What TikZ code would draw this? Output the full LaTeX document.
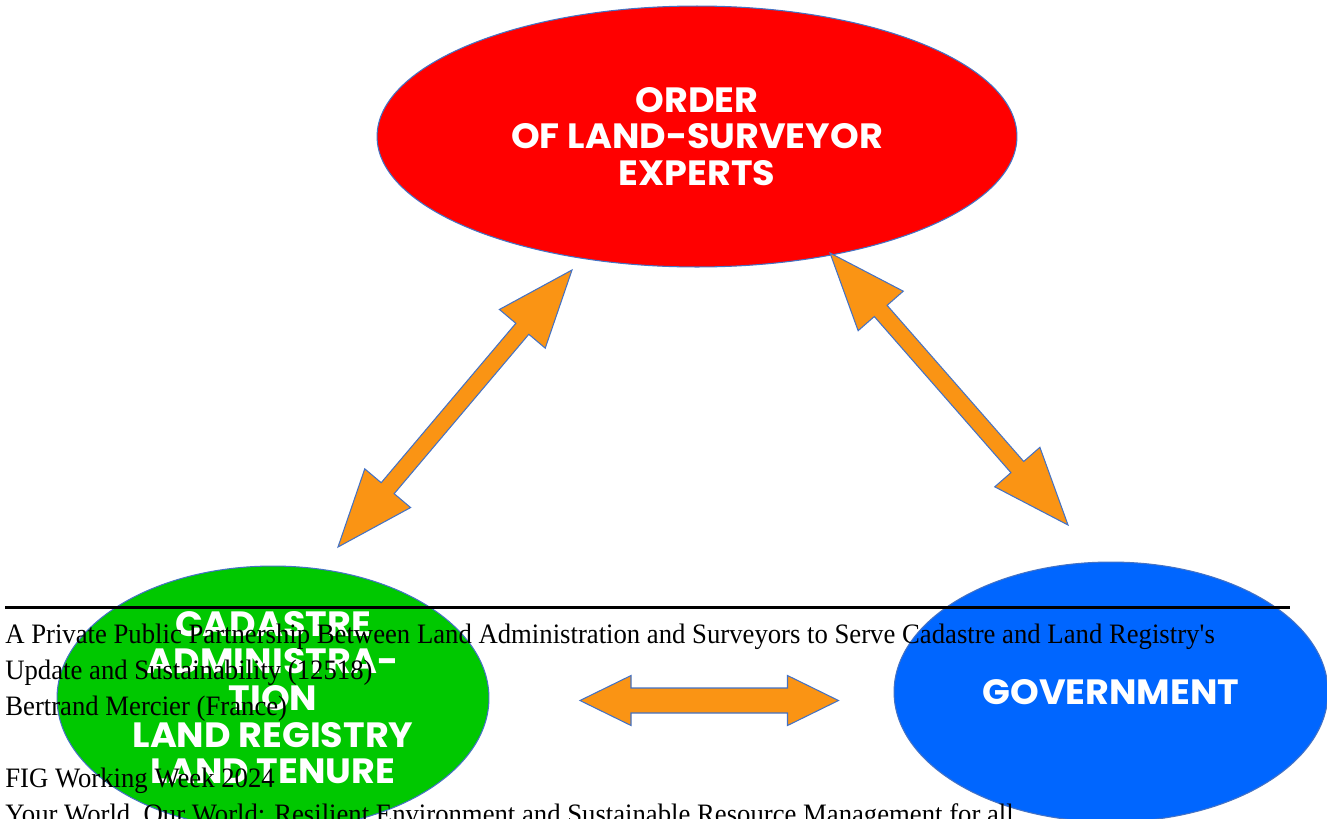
\documentclass[tikz,border=0pt]{standalone}
\usepackage{fontspec}
\setmainfont{Liberation Serif}[FakeStretch=0.95]
\newfontfamily\boxfont{Poppins}[FakeStretch=1.04]
\usetikzlibrary{shapes.geometric,calc}

\definecolor{ordred}{RGB}{255,0,0}
\definecolor{cadgreen}{RGB}{0,200,0}
\definecolor{govblue}{RGB}{0,102,255}
\definecolor{arrorange}{RGB}{250,148,20}
\definecolor{edgeblue}{RGB}{68,114,196}

\tikzset{
  body/.style={ellipse, draw=edgeblue, line width=0.6pt, inner sep=0pt,
    text=white, align=center, font=\boxfont\bfseries\fontsize{20}{20.9}\selectfont},
  flowarrow/.style={fill=arrorange, draw=edgeblue, line width=0.6pt},
  footer/.style={anchor=base west, inner sep=0pt, font=\fontsize{16}{20}\selectfont},
}

% block arrow with two heads: tips #1 and #2, half shaft #3, half head #4, head length #5
\newcommand{\linkarrow}[5]{%
  \filldraw[flowarrow] (#1)
    -- ($(#1)!#5!(#2)!#4!90:(#2)$)
    -- ($(#1)!#5!(#2)!#3!90:(#2)$)
    -- ($(#2)!#5!(#1)!#3!-90:(#1)$)
    -- ($(#2)!#5!(#1)!#4!-90:(#1)$)
    -- (#2)
    -- ($(#2)!#5!(#1)!#4!90:(#1)$)
    -- ($(#2)!#5!(#1)!#3!90:(#1)$)
    -- ($(#1)!#5!(#2)!#3!-90:(#2)$)
    -- ($(#1)!#5!(#2)!#4!-90:(#2)$)
    -- cycle;}

\begin{document}
\begin{tikzpicture}[x=0.02cm, y=-0.02cm]
    \useasboundingbox (0,0) rectangle (1327,818);

    % The three bodies
    \node[body, fill=ordred, minimum width=12.8cm, minimum height=5.22cm] (order) at (697,136.5)
        {ORDER\\OF LAND-SURVEYOR\\EXPERTS};
    \node[body, fill=cadgreen, minimum width=8.64cm, minimum height=5.28cm] (cadastre) at (273,698)
        {CADASTRE\\ADMINISTRA-\\TION\\LAND REGISTRY\\LAND TENURE};
    \node[body, fill=govblue, minimum width=8.68cm, minimum height=5.2cm] (gov) at (1111,692)
        {GOVERNMENT};

    % Arrow tips
    \coordinate (ord-left) at (572,270);
    \coordinate (cad-top) at (338,547);
    \coordinate (ord-right) at (830,253);
    \coordinate (gov-top) at (1068,525);
    \coordinate (cad-right) at (580,700.5);
    \coordinate (gov-left) at (838.5,700.5);

    % Two-way arrows
    \linkarrow{cad-top}{ord-left}{0.17cm}{0.6cm}{1.54cm}
    \linkarrow{ord-right}{gov-top}{0.17cm}{0.6cm}{1.54cm}
    \linkarrow{cad-right}{gov-left}{0.25cm}{0.5cm}{1.02cm}

    % Page footer
    \draw[line width=1.7pt] (5,607) -- (1290,607);
    \node[footer] (ft1) at (5,643) {A Private Public Partnership Between Land Administration and Surveyors to Serve Cadastre and Land Registry\textquotesingle s};
    \node[footer] (ft2) at (5,679) {Update and Sustainability (12518)};
    \node[footer] (ft3) at (5,715) {Bertrand Mercier (France)};
    \node[footer] (ft4) at (5,787) {FIG Working Week 2024};
    \node[footer] (ft5) at (5,823) {Your World, Our World: Resilient Environment and Sustainable Resource Management for all};
\end{tikzpicture}
\end{document}
